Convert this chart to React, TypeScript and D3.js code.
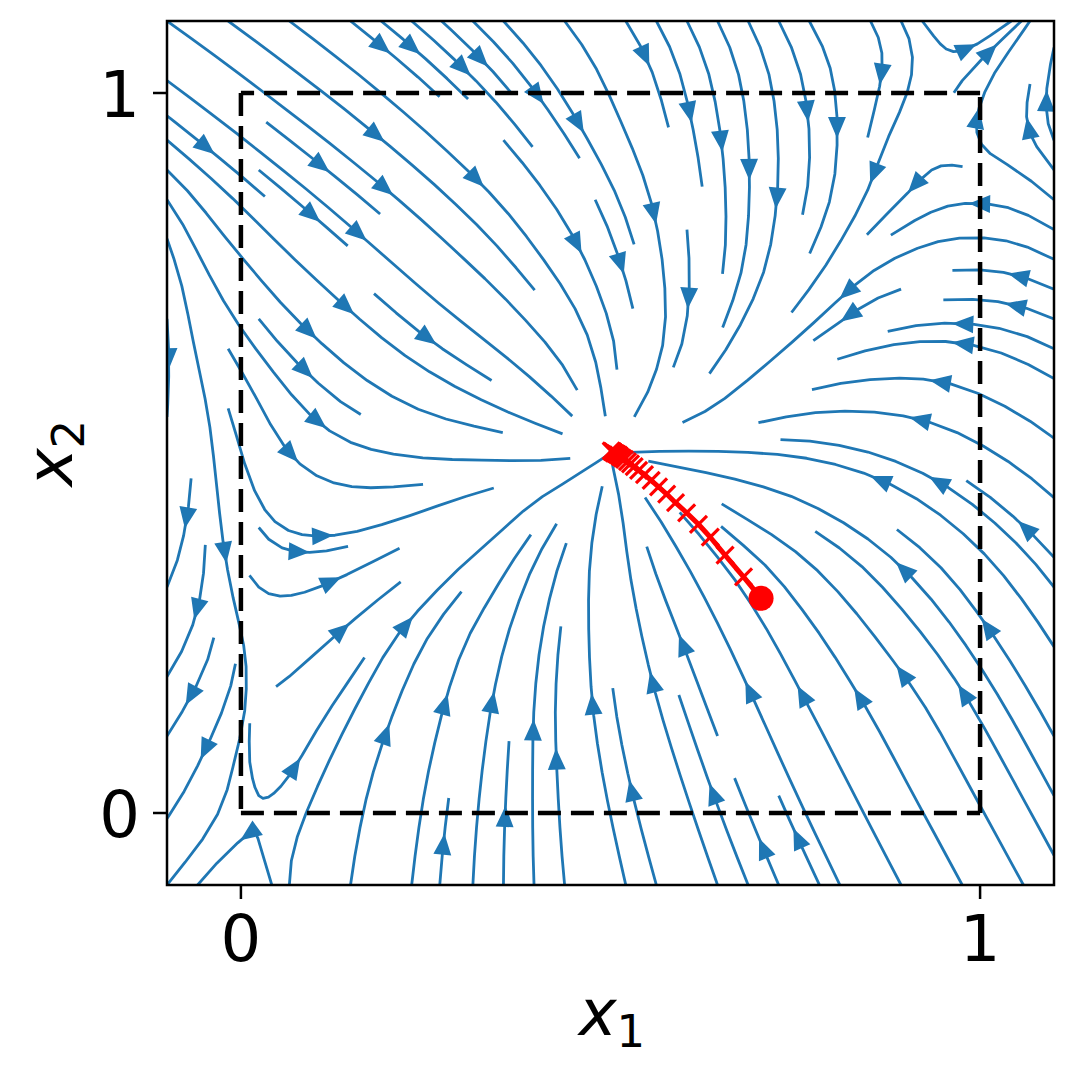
import React, { useMemo } from "react";
import * as d3 from "d3";

const WIDTH = 1076;
const HEIGHT = 1065;
const X_DOMAIN: [number, number] = [-0.1, 1.1];
const Y_DOMAIN: [number, number] = [-0.1, 1.1];
const TICKS = [0, 1];
const TICK_LABELS = ["0", "1"];
const BOX_SIDES: [number, number, number, number][] = [
  [0, 0, 1, 0],
  [1, 0, 1, 1],
  [1, 1, 0, 1],
  [0, 1, 0, 0],
];

// Flow directions (degrees, counter-clockwise from +x1)
const LATTICE_X = [-0.1, 0, 0.1, 0.2, 0.3, 0.4, 0.5, 0.6, 0.7, 0.8, 0.9, 1.0, 1.1];
const LATTICE_Y = [1.1, 1.0, 0.9, 0.8, 0.7, 0.6, 0.5, 0.4, 0.3, 0.2, 0.1, 0.0, -0.1];
const FLOW_ANGLES: (number | null)[][] = [
  [-36, -37, -38, -40, -44, -50, -56, -62, -62, -58, -50, 25, 70],
  [-37, -38, -38, -41, -45, -55, -68, -78, -82, -80, -95, 75, 88],
  [-42, -39, -39, -40, -44, -53, -62, -80, -90, -92, -112, 178, 125],
  [-70, -48, -42, -42, -44, -55, -70, -85, -95, -115, -155, 178, 148],
  [-88, -55, -44, -42, -40, -50, -72, -92, -118, -135, -168, 177, 155],
  [-95, -50, -42, -35, -30, -42, -85, -120, -140, -170, 180, 155, 148],
  [-105, -80, -32, -10, -3, -8, null, 178, 176, 168, 158, 150, 140],
  [-112, -92, 3, 20, 30, 55, 90, 125, 150, 148, 143, 138, 135],
  [-125, -95, 30, 40, 52, 75, 95, 115, 122, 130, 130, 125, 125],
  [-128, -118, 47, 66, 73, 84, 95, 110, 115, 120, 127, 122, 120],
  [-125, -115, 62, 72, 80, 90, 100, 108, 113, 117, 117, 118, 118],
  [-127, -110, 78, 80, 84, 90, 102, 108, 112, 116, 118, 118, 118],
  [-128, -120, 83, 83, 87, 92, 102, 107, 112, 115, 117, 118, 118],
];
// extra readings around the node, the two saddles and the left edge
const EXTRA_X = [
  0.54, 0.46, 0.5, 0.5, 0.528, 0.472, 0.472, 0.528,
  0.975, 0.966, 0.945, 0.924, 0.915, 0.924, 0.945, 0.966,
  0.04, 0.031, 0.01, -0.011, -0.02, -0.011, 0.01, 0.031,
  -0.03, -0.03, -0.03, -0.03, -0.03,
  0.03, 0.03, 0.035, 0.03, 0.03, 0.035,
];
const EXTRA_Y = [
  0.5, 0.5, 0.54, 0.46, 0.528, 0.528, 0.472, 0.472,
  1.0, 1.021, 1.03, 1.021, 1.0, 0.979, 0.97, 0.979,
  -0.01, 0.011, 0.02, 0.011, -0.01, -0.031, -0.04, -0.031,
  0.55, 0.45, 0.35, 0.25, 0.15,
  0.55, 0.45, 0.36, 0.27, 0.17, 0.08,
];
const EXTRA_ANGLE = [
  180, 0, -90, 90, -135, -45, 45, 135,
  63, 45, -90, -108, -117, -135, 90, 72,
  63, 45, -90, -108, -117, -135, 90, 72,
  -88, -90, -92, -100, -112,
  -62, -48, -5, 35, 50, 65,
];

// red iterate sequence
const TRAJ_X = [0.7037, 0.68, 0.655, 0.635, 0.619, 0.603, 0.588, 0.576, 0.565, 0.555, 0.546, 0.538, 0.532, 0.527, 0.523, 0.519, 0.516, 0.513, 0.511, 0.509, 0.507, 0.505, 0.504, 0.503, 0.502, 0.501];
const TRAJ_Y = [0.2982, 0.328, 0.358, 0.383, 0.401, 0.417, 0.431, 0.443, 0.453, 0.462, 0.47, 0.476, 0.481, 0.485, 0.488, 0.491, 0.493, 0.495, 0.497, 0.498, 0.499, 0.5, 0.501, 0.502, 0.502, 0.503];

const BANDWIDTH = 0.045;
const GRID_N = 100;

type Pt = [number, number];

function buildSamples() {
  const s: { x: number; y: number; c: number; s: number }[] = [];
  FLOW_ANGLES.forEach((row, j) =>
    row.forEach((a, i) => {
      if (a === null) return;
      const r = (a * Math.PI) / 180;
      s.push({ x: LATTICE_X[i], y: LATTICE_Y[j], c: Math.cos(r), s: Math.sin(r) });
    })
  );
  EXTRA_X.forEach((x, k) => {
    const r = (EXTRA_ANGLE[k] * Math.PI) / 180;
    s.push({ x, y: EXTRA_Y[k], c: Math.cos(r), s: Math.sin(r) });
  });
  return s;
}

function streamplot(): Pt[][] {
  const samples = buildSamples();
  const nx = GRID_N, ny = GRID_N;
  const x0 = X_DOMAIN[0], y0 = Y_DOMAIN[0];
  const dxg = (X_DOMAIN[1] - X_DOMAIN[0]) / (nx - 1);
  const dyg = (Y_DOMAIN[1] - Y_DOMAIN[0]) / (ny - 1);
  const ug: number[][] = [], vg: number[][] = [], sp: number[][] = [];
  const bw2 = 2 * BANDWIDTH * BANDWIDTH;
  for (let j = 0; j < ny; j++) {
    ug.push([]); vg.push([]); sp.push([]);
    const y = y0 + j * dyg;
    for (let i = 0; i < nx; i++) {
      const x = x0 + i * dxg;
      let u = 0, v = 0, wt = 0;
      for (const p of samples) {
        const ddx = x - p.x, ddy = y - p.y;
        const w = Math.exp(-(ddx * ddx + ddy * ddy) / bw2);
        u += w * p.c; v += w * p.s; wt += w;
      }
      u /= wt; v /= wt;
      const uu = u / dxg, vv = v / dyg;
      ug[j].push(uu); vg[j].push(vv);
      sp[j].push(Math.hypot(uu / (nx - 1), vv / (ny - 1)));
    }
  }
  const interp = (a: number[][], xi: number, yi: number) => {
    const x = Math.floor(xi), y = Math.floor(yi);
    const xn = x === nx - 1 ? x : x + 1;
    const yn = y === ny - 1 ? y : y + 1;
    const xt = xi - x, yt = yi - y;
    const a0 = a[y][x] * (1 - xt) + a[y][xn] * xt;
    const a1 = a[yn][x] * (1 - xt) + a[yn][xn] * xt;
    return a0 * (1 - yt) + a1 * yt;
  };
  const within = (xi: number, yi: number) => xi >= 0 && xi <= nx - 1 && yi >= 0 && yi <= ny - 1;
  const MN = 30;
  const mask = new Uint8Array(MN * MN);
  const g2m = (MN - 1) / (nx - 1);
  const roundHE = (v: number) => {
    const f = Math.floor(v), d = v - f;
    if (d < 0.5) return f;
    if (d > 0.5) return f + 1;
    return f % 2 === 0 ? f : f + 1;
  };
  const cell = (xg: number, yg: number) => roundHE(yg * g2m) * MN + roundHE(xg * g2m);
  let cur = -1;
  let trajCells: number[] = [];
  const OUT = { k: "out" }, TERM = { k: "term" }, INV = { k: "inv" };
  const updateCell = (id: number) => {
    if (cur !== id) {
      if (mask[id] === 0) { trajCells.push(id); mask[id] = 1; cur = id; }
      else throw INV;
    }
  };
  const updateTraj = (xg: number, yg: number) => {
    if (!within(xg, yg)) throw INV;
    updateCell(cell(xg, yg));
  };
  const f = (xi: number, yi: number, sign: number): Pt => {
    if (!within(xi, yi)) throw OUT;
    const dsdt = interp(sp, xi, yi);
    if (dsdt === 0 || !isFinite(dsdt)) throw TERM;
    const dtds = 1 / dsdt;
    return [sign * interp(ug, xi, yi) * dtds, sign * interp(vg, xi, yi) * dtds];
  };
  const maxlength = 4.0, minlength = 0.1;
  const euler = (traj: Pt[], sign: number) => {
    const [xi, yi] = traj[traj.length - 1];
    let cx: number, cy: number;
    try { [cx, cy] = f(xi, yi, sign); } catch { return 0; }
    let dsx = Infinity, dsy = Infinity;
    if (cx < 0) dsx = xi / -cx; else if (cx > 0) dsx = (nx - 1 - xi) / cx;
    if (cy < 0) dsy = yi / -cy; else if (cy > 0) dsy = (ny - 1 - yi) / cy;
    const ds = Math.min(dsx, dsy);
    if (isFinite(ds)) traj.push([xi + cx * ds, yi + cy * ds]);
    return isFinite(ds) ? ds : 0;
  };
  const rk12 = (xs: number, ys: number, sign: number): [number, Pt[]] => {
    const maxerror = 0.003;
    const maxds = Math.min(1 / MN, 1 / MN, 0.1);
    let ds = maxds, stotal = 0, xi = xs, yi = ys;
    const traj: Pt[] = [];
    for (let guard = 0; guard < 20000; guard++) {
      let k1: Pt, k2: Pt;
      try {
        if (within(xi, yi)) traj.push([xi, yi]); else throw OUT;
        k1 = f(xi, yi, sign);
        k2 = f(xi + ds * k1[0], yi + ds * k1[1], sign);
      } catch (e) {
        if (e === OUT) { if (traj.length) stotal += euler(traj, sign); break; }
        if (e === TERM) break;
        throw e;
      }
      const dx1 = ds * k1[0], dy1 = ds * k1[1];
      const dx2 = ds * 0.5 * (k1[0] + k2[0]), dy2 = ds * 0.5 * (k1[1] + k2[1]);
      const err = Math.hypot((dx2 - dx1) / (nx - 1), (dy2 - dy1) / (ny - 1));
      if (err < maxerror) {
        xi += dx2; yi += dy2;
        try { updateTraj(xi, yi); } catch (e) { if (e === INV) break; throw e; }
        if (stotal + ds > maxlength) break;
        stotal += ds;
      }
      ds = err === 0 ? maxds : Math.min(maxds, 0.85 * ds * Math.sqrt(maxerror / err));
    }
    return [stotal, traj];
  };
  const integrate = (xs: number, ys: number): Pt[] | null => {
    trajCells = [];
    try { updateCell(cell(xs, ys)); } catch (e) { if (e === INV) return null; throw e; }
    let stotal = 0;
    const [s1, t1] = rk12(xs, ys, -1);
    stotal += s1;
    let out: Pt[] = t1.slice().reverse();
    cur = cell(xs, ys);
    const [s2, t2] = rk12(xs, ys, 1);
    stotal += s2;
    out = out.concat(t2.slice(1));
    if (stotal > minlength) return out;
    for (const c of trajCells) mask[c] = 0;
    return null;
  };
  // spiral starting points as matplotlib does
  const starts: [number, number][] = [];
  {
    let xfirst = 0, yfirst = 1, xlast = MN - 1, ylast = MN - 1, x = 0, y = 0;
    let dir = "right";
    for (let i = 0; i < MN * MN; i++) {
      starts.push([x, y]);
      if (dir === "right") { x += 1; if (x >= xlast) { xlast -= 1; dir = "up"; } }
      else if (dir === "up") { y += 1; if (y >= ylast) { ylast -= 1; dir = "left"; } }
      else if (dir === "left") { x -= 1; if (x <= xfirst) { xfirst += 1; dir = "down"; } }
      else { y -= 1; if (y <= yfirst) { yfirst += 1; dir = "right"; } }
    }
  }
  const result: Pt[][] = [];
  for (const [xm, ym] of starts) {
    if (mask[ym * MN + xm] === 0) {
      const t = integrate(xm / g2m, ym / g2m);
      if (t) result.push(t.map(([a, b]) => [x0 + a * dxg, y0 + b * dyg] as Pt));
    }
  }
  return result;
}

export default function App() {
  const xs = d3.scaleLinear().domain(X_DOMAIN).range([167, 1054]);
  const ys = d3.scaleLinear().domain(Y_DOMAIN).range([885, 21]);
  const lines = useMemo(() => streamplot(), []);
  const lineGen = d3.line<Pt>().x((d) => xs(d[0])).y((d) => ys(d[1])).curve(d3.curveLinear);

  const arrows = lines.map((t) => {
    const px = t.map((p) => [xs(p[0]), ys(p[1])] as Pt);
    const cum: number[] = [];
    let acc = 0;
    for (let i = 1; i < t.length; i++) {
      acc += Math.hypot(t[i][0] - t[i - 1][0], t[i][1] - t[i - 1][1]);
      cum.push(acc);
    }
    const half = acc / 2;
    let n = cum.findIndex((s) => s >= half);
    if (n < 0) n = 0;
    const tail = px[n];
    const nxt = px[Math.min(n + 1, px.length - 1)];
    const head: Pt = [(tail[0] + nxt[0]) / 2, (tail[1] + nxt[1]) / 2];
    let dx = head[0] - tail[0], dy = head[1] - tail[1];
    const L = Math.hypot(dx, dy) || 1;
    dx /= L; dy /= L;
    const len = 18, hw = 7.6;
    const tipx = head[0] + dx * 5, tipy = head[1] + dy * 5;
    const bx = tipx - dx * len, by = tipy - dy * len;
    return `M${tipx},${tipy}L${bx - dy * hw},${by + dx * hw}L${bx + dy * hw},${by - dx * hw}Z`;
  });

  const trajPts: Pt[] = TRAJ_X.map((x, i) => [xs(x), ys(TRAJ_Y[i])]);
  const blue = "#1f77b4";
  const fontFamily = "DejaVu Sans, sans-serif";
  const left = 167, right = 1054, top = 21, bottom = 885;

  return (
    <svg width={WIDTH} height={HEIGHT} style={{ position: "absolute", left: 0, top: 0, background: "#fff" }}>
      <defs>
        <clipPath id="plotclip">
          <rect x={left} y={top} width={right - left} height={bottom - top} />
        </clipPath>
      </defs>
      <rect x={0} y={0} width={WIDTH} height={HEIGHT} fill="#fff" />
      <g clipPath="url(#plotclip)">
        {lines.map((t, i) => (
          <path key={i} d={lineGen(t) || ""} fill="none" stroke={blue} strokeWidth={2.8} strokeLinejoin="round" />
        ))}
        {arrows.map((d, i) => (
          <path key={"a" + i} d={d} fill={blue} stroke={blue} strokeWidth={1.8} strokeLinejoin="miter" />
        ))}
        {BOX_SIDES.map(([ax, ay, bx, by], i) => (
          <line key={"b" + i} x1={xs(ax)} y1={ys(ay)} x2={xs(bx)} y2={ys(by)} stroke="#000" strokeWidth={4.5} strokeDasharray="23 10" />
        ))}
        <path d={d3.line()(trajPts) || ""} fill="none" stroke="red" strokeWidth={5} strokeLinejoin="round" />
        {trajPts.slice(1).map(([x, y], i) => (
          <path key={"m" + i} d={`M${x - 8.5},${y - 8.5}L${x + 8.5},${y + 8.5}M${x - 8.5},${y + 8.5}L${x + 8.5},${y - 8.5}`} stroke="red" strokeWidth={3.2} />
        ))}
        <circle cx={trajPts[0][0]} cy={trajPts[0][1]} r={12.5} fill="red" />
      </g>
      <rect x={left} y={top} width={right - left} height={bottom - top} fill="none" stroke="#000" strokeWidth={2.5} />
      {TICKS.map((t, i) => (
        <g key={"xt" + i}>
          <line x1={xs(t)} x2={xs(t)} y1={bottom} y2={bottom + 14} stroke="#000" strokeWidth={2.5} />
          <text x={xs(t)} y={961} textAnchor="middle" fontSize={64} fontFamily={fontFamily}>{TICK_LABELS[i]}</text>
        </g>
      ))}
      {TICKS.map((t, i) => (
        <g key={"yt" + i}>
          <line x1={left - 14} x2={left} y1={ys(t)} y2={ys(t)} stroke="#000" strokeWidth={2.5} />
          <text x={140} y={ys(t) + 24} textAnchor="end" fontSize={64} fontFamily={fontFamily}>{TICK_LABELS[i]}</text>
        </g>
      ))}
      <text x={612} y={1035} textAnchor="middle" fontSize={64} fontFamily={fontFamily}>
        <tspan fontStyle="italic">x</tspan>
        <tspan fontSize={45} dy={12}>1</tspan>
      </text>
      <text transform="translate(72,453) rotate(-90)" textAnchor="middle" fontSize={64} fontFamily={fontFamily}>
        <tspan fontStyle="italic">x</tspan>
        <tspan fontSize={45} dy={12}>2</tspan>
      </text>
    </svg>
  );
}
